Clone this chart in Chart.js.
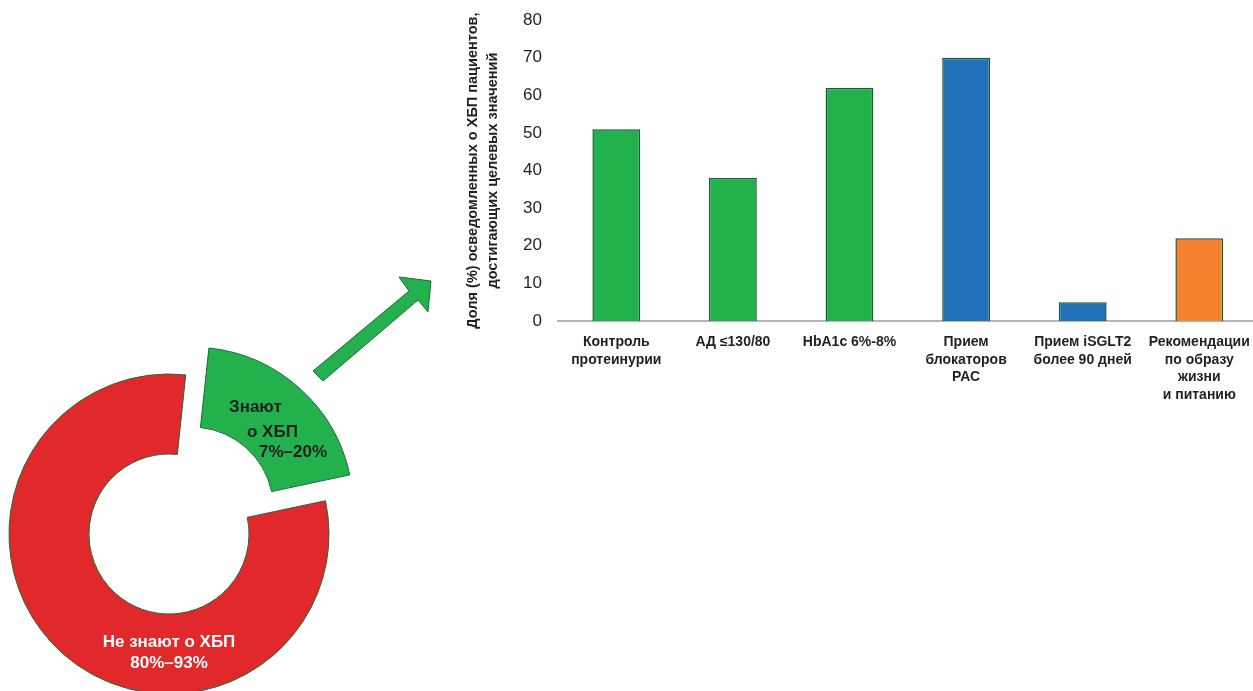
<!DOCTYPE html>
<html lang="ru">
<head>
  <meta charset="UTF-8">
  <title>Осведомленность о ХБП</title>
  <script src="https://cdn.jsdelivr.net/npm/chart.js"></script>
  <style>
    html, body { margin: 0; padding: 0; width: 1253px; height: 691px; overflow: hidden; background: #fff; }
    #donut { position: absolute; left: -31px; top: 334px; }
    #arrow { position: absolute; left: 0; top: 0; }
    #bars { position: absolute; left: 440px; top: -6px; }
  </style>
</head>
<body>
  <canvas id="donut" width="400" height="400"></canvas>
  <svg id="arrow" width="460" height="400">
    <polygon points="313,371 409,291 399,277 431,281 428,312 418,300 323,381"
             fill="#22b14c" stroke="#1d6b3a" stroke-width="1"/>
  </svg>
  <canvas id="bars" width="822" height="430"></canvas>

  <script>
    // doughnut: who knows about CKD
    const awarenessLines = [["Знают", "о ХБП"], ["Не знают о ХБП"]];
    const awarenessRanges = ["7%–20%", "80%–93%"];
    const awarenessShares = [20, 80];
    const awarenessColors = ["#22b14c", "#e1282a"];

    // bars: share of aware patients reaching targets
    const categories = [
      ["Контроль", "протеинурии"],
      "АД ≤130/80",
      "HbA1c 6%-8%",
      ["Прием", "блокаторов", "РАС"],
      ["Прием iSGLT2", "более 90 дней"],
      ["Рекомендации", "по образу", "жизни", "и питанию"]
    ];
    const shares = [51, 38, 62, 70, 5, 22];
    const barColors = ["#22b14c", "#22b14c", "#22b14c", "#2272b9", "#2272b9", "#f58130"];
    const yMin = 0, yMax = 80, yStep = 10;
    const yTitle = ["Доля (%) осведомленных о ХБП пациентов,", "достигающих целевых значений"];

    const FONT = '"Liberation Sans", Arial, sans-serif';
    const INK = "#231f20";
    Chart.defaults.font.family = FONT;

    const donutText = {
      id: "donutText",
      afterDatasetsDraw(chart) {
        const c = chart.getDatasetMeta(0).data[0];
        const ctx = chart.ctx;
        ctx.save();
        ctx.font = "bold 17px " + FONT;
        ctx.textBaseline = "alphabetic";

        // green slice, staggered lines
        const g = awarenessLines[0].concat(awarenessRanges[0]);
        const gx = [60, 78, 90], gy = [-122, -97, -77];
        ctx.fillStyle = INK;
        ctx.textAlign = "left";
        g.forEach((t, i) => ctx.fillText(t, c.x + gx[i], c.y + gy[i]));

        // red slice
        const r = awarenessLines[1].concat(awarenessRanges[1]);
        const ry = [113, 134];
        ctx.fillStyle = "#fff";
        ctx.textAlign = "center";
        r.forEach((t, i) => ctx.fillText(t, c.x, c.y + ry[i]));
        ctx.restore();
      }
    };

    new Chart(document.getElementById("donut"), {
      type: "doughnut",
      data: {
        labels: awarenessLines.map(l => l.join(" ")),
        datasets: [{
          data: awarenessShares,
          backgroundColor: awarenessColors,
          borderColor: "#1d6b3a",
          borderWidth: 1,
          offset: [136, 0]   // arc draws offset/4 -> ~34px
        }]
      },
      options: {
        responsive: false,
        animation: false,
        rotation: 6,
        radius: 160,
        cutout: "50%",
        plugins: { legend: { display: false }, tooltip: { enabled: false } }
      },
      plugins: [donutText]
    });

    new Chart(document.getElementById("bars"), {
      type: "bar",
      data: {
        labels: categories,
        datasets: [{
          data: shares,
          backgroundColor: barColors,
          borderColor: "#1c5a31",
          borderWidth: 1.5,
          barPercentage: 0.41,
          categoryPercentage: 1
        }]
      },
      options: {
        responsive: false,
        animation: false,
        layout: { padding: { top: 14, right: 2, bottom: 0, left: 0 } },
        plugins: { legend: { display: false }, tooltip: { enabled: false } },
        scales: {
          x: {
            grid: { display: false, drawTicks: false },
            border: { display: true, color: "#b5b5b5", width: 2 },
            ticks: {
              color: INK,
              font: { size: 14, weight: "bold", lineHeight: 1.27 },
              padding: 12,
              maxRotation: 0,
              autoSkip: false
            },
            afterFit: s => { s.height = 103; }
          },
          y: {
            min: yMin,
            max: yMax,
            grid: { display: false, drawTicks: false },
            border: { display: false },
            ticks: { stepSize: yStep, padding: 16, color: INK, font: { size: 17 } },
            title: {
              display: true,
              text: yTitle,
              color: INK,
              font: { size: 14.5, weight: "bold", lineHeight: 20 / 14.5 },
              padding: { top: 23, bottom: 0 }
            },
            afterFit: s => { s.width = 118; }
          }
        }
      }
    });
  </script>
</body>
</html>
